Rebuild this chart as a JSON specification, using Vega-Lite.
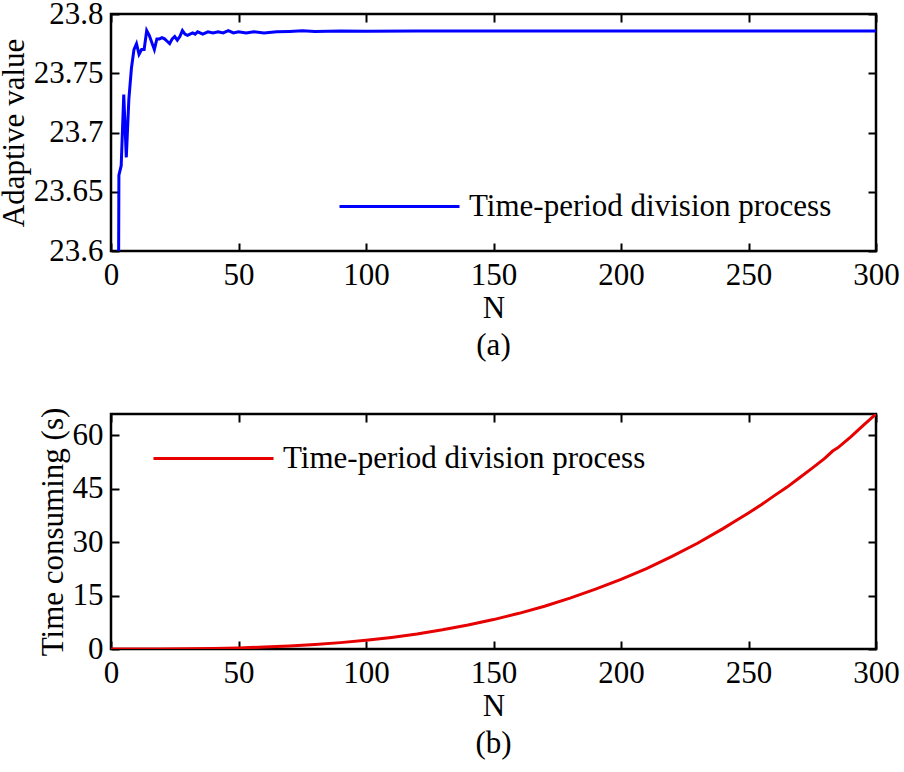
{
  "$schema": "https://vega.github.io/schema/vega-lite/v6.json",
  "padding": {"left": -3, "top": -4, "right": 0, "bottom": 0},
  "background": "white",
  "datasets": {
    "a": [
      {"N": 3, "value": 23.6, "series": "Time-period division process"},
      {"N": 3.1, "value": 23.664, "series": "Time-period division process"},
      {"N": 4, "value": 23.672, "series": "Time-period division process"},
      {"N": 5, "value": 23.732, "series": "Time-period division process"},
      {"N": 6, "value": 23.679, "series": "Time-period division process"},
      {"N": 7, "value": 23.728, "series": "Time-period division process"},
      {"N": 8, "value": 23.754, "series": "Time-period division process"},
      {"N": 9, "value": 23.770, "series": "Time-period division process"},
      {"N": 10, "value": 23.775, "series": "Time-period division process"},
      {"N": 11, "value": 23.766, "series": "Time-period division process"},
      {"N": 12, "value": 23.770, "series": "Time-period division process"},
      {"N": 13, "value": 23.770, "series": "Time-period division process"},
      {"N": 14, "value": 23.786, "series": "Time-period division process"},
      {"N": 15, "value": 23.782, "series": "Time-period division process"},
      {"N": 16, "value": 23.776, "series": "Time-period division process"},
      {"N": 17, "value": 23.770, "series": "Time-period division process"},
      {"N": 18, "value": 23.779, "series": "Time-period division process"},
      {"N": 19, "value": 23.779, "series": "Time-period division process"},
      {"N": 20, "value": 23.780, "series": "Time-period division process"},
      {"N": 21, "value": 23.779, "series": "Time-period division process"},
      {"N": 22, "value": 23.777, "series": "Time-period division process"},
      {"N": 23, "value": 23.775, "series": "Time-period division process"},
      {"N": 24, "value": 23.779, "series": "Time-period division process"},
      {"N": 25, "value": 23.781, "series": "Time-period division process"},
      {"N": 26, "value": 23.778, "series": "Time-period division process"},
      {"N": 27, "value": 23.781, "series": "Time-period division process"},
      {"N": 28, "value": 23.786, "series": "Time-period division process"},
      {"N": 29, "value": 23.783, "series": "Time-period division process"},
      {"N": 30, "value": 23.782, "series": "Time-period division process"},
      {"N": 31, "value": 23.783, "series": "Time-period division process"},
      {"N": 32, "value": 23.784, "series": "Time-period division process"},
      {"N": 33, "value": 23.783, "series": "Time-period division process"},
      {"N": 34, "value": 23.785, "series": "Time-period division process"},
      {"N": 36, "value": 23.783, "series": "Time-period division process"},
      {"N": 38, "value": 23.785, "series": "Time-period division process"},
      {"N": 40, "value": 23.784, "series": "Time-period division process"},
      {"N": 42, "value": 23.785, "series": "Time-period division process"},
      {"N": 44, "value": 23.784, "series": "Time-period division process"},
      {"N": 46, "value": 23.786, "series": "Time-period division process"},
      {"N": 48, "value": 23.784, "series": "Time-period division process"},
      {"N": 50, "value": 23.785, "series": "Time-period division process"},
      {"N": 53, "value": 23.784, "series": "Time-period division process"},
      {"N": 56, "value": 23.785, "series": "Time-period division process"},
      {"N": 60, "value": 23.784, "series": "Time-period division process"},
      {"N": 65, "value": 23.785, "series": "Time-period division process"},
      {"N": 70, "value": 23.7853, "series": "Time-period division process"},
      {"N": 75, "value": 23.7858, "series": "Time-period division process"},
      {"N": 80, "value": 23.7852, "series": "Time-period division process"},
      {"N": 90, "value": 23.7856, "series": "Time-period division process"},
      {"N": 100, "value": 23.7855, "series": "Time-period division process"},
      {"N": 120, "value": 23.7857, "series": "Time-period division process"},
      {"N": 150, "value": 23.7856, "series": "Time-period division process"},
      {"N": 200, "value": 23.7857, "series": "Time-period division process"},
      {"N": 250, "value": 23.7857, "series": "Time-period division process"},
      {"N": 300, "value": 23.7857, "series": "Time-period division process"}
    ],
    "b": [
      {"N": 0, "value": 0, "series": "Time-period division process"},
      {"N": 10, "value": 0.01, "series": "Time-period division process"},
      {"N": 20, "value": 0.03, "series": "Time-period division process"},
      {"N": 30, "value": 0.07, "series": "Time-period division process"},
      {"N": 40, "value": 0.16, "series": "Time-period division process"},
      {"N": 50, "value": 0.31, "series": "Time-period division process"},
      {"N": 60, "value": 0.53, "series": "Time-period division process"},
      {"N": 70, "value": 0.84, "series": "Time-period division process"},
      {"N": 80, "value": 1.25, "series": "Time-period division process"},
      {"N": 90, "value": 1.79, "series": "Time-period division process"},
      {"N": 100, "value": 2.45, "series": "Time-period division process"},
      {"N": 110, "value": 3.26, "series": "Time-period division process"},
      {"N": 120, "value": 4.23, "series": "Time-period division process"},
      {"N": 130, "value": 5.38, "series": "Time-period division process"},
      {"N": 140, "value": 6.72, "series": "Time-period division process"},
      {"N": 150, "value": 8.26, "series": "Time-period division process"},
      {"N": 160, "value": 10.02, "series": "Time-period division process"},
      {"N": 170, "value": 12.02, "series": "Time-period division process"},
      {"N": 180, "value": 14.28, "series": "Time-period division process"},
      {"N": 190, "value": 16.8, "series": "Time-period division process"},
      {"N": 200, "value": 19.55, "series": "Time-period division process"},
      {"N": 210, "value": 22.6, "series": "Time-period division process"},
      {"N": 220, "value": 26.0, "series": "Time-period division process"},
      {"N": 230, "value": 29.7, "series": "Time-period division process"},
      {"N": 240, "value": 33.8, "series": "Time-period division process"},
      {"N": 245, "value": 36.0, "series": "Time-period division process"},
      {"N": 250, "value": 38.2, "series": "Time-period division process"},
      {"N": 255, "value": 40.5, "series": "Time-period division process"},
      {"N": 260, "value": 43.0, "series": "Time-period division process"},
      {"N": 265, "value": 45.4, "series": "Time-period division process"},
      {"N": 270, "value": 48.1, "series": "Time-period division process"},
      {"N": 275, "value": 50.8, "series": "Time-period division process"},
      {"N": 280, "value": 53.6, "series": "Time-period division process"},
      {"N": 283, "value": 55.6, "series": "Time-period division process"},
      {"N": 285, "value": 56.5, "series": "Time-period division process"},
      {"N": 290, "value": 59.5, "series": "Time-period division process"},
      {"N": 295, "value": 62.8, "series": "Time-period division process"},
      {"N": 300, "value": 66.0, "series": "Time-period division process"}
    ]
  },
  "spacing": 32,
  "vconcat": [
    {
      "width": 765,
      "height": 237,
      "title": {"text": "(a)", "orient": "bottom", "offset": 8},
      "data": {"name": "a"},
      "layer": [
        {
          "mark": {"type": "line", "clip": true, "strokeWidth": 3},
          "encoding": {
            "x": {"field": "N", "type": "quantitative", "scale": {"domain": [0, 300], "nice": false},
                  "axis": {"orient": "bottom", "values": [0, 50, 100, 150, 200, 250, 300], "title": "N"}},
            "y": {"field": "value", "type": "quantitative", "scale": {"domain": [23.6, 23.8], "nice": false, "zero": false},
                  "axis": {"orient": "left", "values": [23.6, 23.65, 23.7, 23.75, 23.8], "format": "~g", "title": "Adaptive value"}},
            "color": {"field": "series", "type": "nominal", "scale": {"range": ["#0000ff"]},
                      "legend": {"orient": "none", "legendX": 227, "legendY": 131}}
          }
        },
        {
          "mark": {"type": "line", "opacity": 0},
          "encoding": {
            "x": {"field": "N", "type": "quantitative", "scale": {"domain": [0, 300], "nice": false},
                  "axis": {"orient": "top", "values": [0, 50, 100, 150, 200, 250, 300], "labels": false, "title": null}},
            "y": {"field": "value", "type": "quantitative", "scale": {"domain": [23.6, 23.8], "nice": false, "zero": false},
                  "axis": {"orient": "right", "values": [23.6, 23.65, 23.7, 23.75, 23.8], "labels": false, "title": null}}
          }
        }
      ],
      "resolve": {"axis": {"x": "independent", "y": "independent"}}
    },
    {
      "width": 765,
      "height": 235,
      "title": {"text": "(b)", "orient": "bottom", "offset": 8},
      "data": {"name": "b"},
      "layer": [
        {
          "mark": {"type": "line", "clip": true, "strokeWidth": 3},
          "encoding": {
            "x": {"field": "N", "type": "quantitative", "scale": {"domain": [0, 300], "nice": false},
                  "axis": {"orient": "bottom", "values": [0, 50, 100, 150, 200, 250, 300], "title": "N"}},
            "y": {"field": "value", "type": "quantitative", "scale": {"domain": [0, 66], "nice": false},
                  "axis": {"orient": "left", "values": [0, 15, 30, 45, 60], "title": "Time consuming (s)"}},
            "color": {"field": "series", "type": "nominal", "scale": {"range": ["#e60000"]},
                      "legend": {"orient": "none", "legendX": 41, "legendY": -17}}
          }
        },
        {
          "mark": {"type": "line", "opacity": 0},
          "encoding": {
            "x": {"field": "N", "type": "quantitative", "scale": {"domain": [0, 300], "nice": false},
                  "axis": {"orient": "top", "values": [0, 50, 100, 150, 200, 250, 300], "labels": false, "title": null}},
            "y": {"field": "value", "type": "quantitative", "scale": {"domain": [0, 66], "nice": false},
                  "axis": {"orient": "right", "values": [0, 15, 30, 45, 60], "labels": false, "title": null}}
          }
        }
      ],
      "resolve": {"axis": {"x": "independent", "y": "independent"}}
    }
  ],
  "resolve": {"scale": {"color": "independent"}, "legend": {"color": "independent"}},
  "config": {
    "view": {"stroke": "black", "strokeWidth": 2.5},
    "axis": {
      "domain": false, "grid": false, "labelFlush": false, "offset": -8,
      "ticks": true, "tickColor": "black", "tickWidth": 2, "tickSize": 8,
      "labelFont": "Liberation Serif", "labelFontSize": 31, "labelColor": "black", "labelPadding": 9,
      "titleFont": "Liberation Serif", "titleFontSize": 31, "titleFontWeight": "normal", "titleColor": "black", "titlePadding": 3
    },
    "axisY": {"labelPadding": 8},
    "legend": {
      "title": null, "symbolType": "stroke", "symbolSize": 14400, "symbolStrokeWidth": 3,
      "labelFont": "Liberation Serif", "labelFontSize": 31, "labelColor": "black", "labelOffset": 8, "labelLimit": 0,
      "padding": 0, "symbolOpacity": 1
    },
    "title": {"font": "Liberation Serif", "fontSize": 31, "fontWeight": "normal", "color": "black", "anchor": "middle"}
  }
}
